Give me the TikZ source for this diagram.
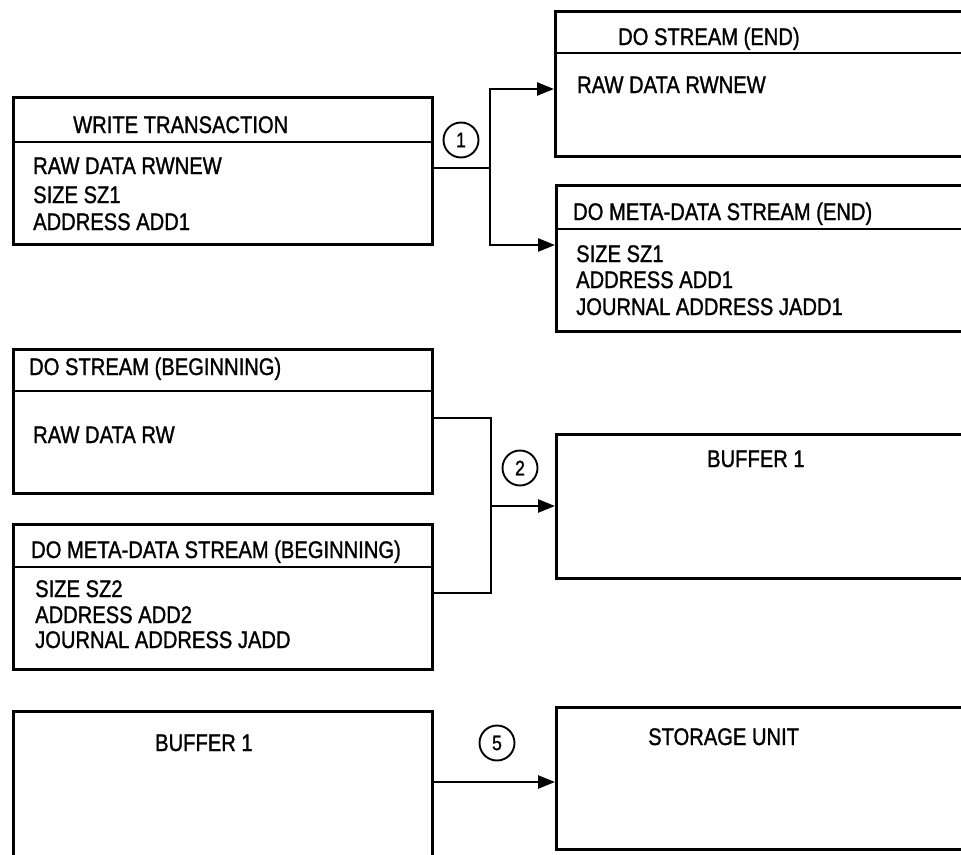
\documentclass[tikz,border=0pt]{standalone}
\usepackage{fontspec}
\setmainfont{Liberation Sans}[FakeStretch=0.84,FakeBold=1.2]
\usetikzlibrary{arrows.meta}
\tikzset{
  box/.style={draw, line width=2.5pt, rectangle, inner sep=0pt, anchor=north west},
  txt/.style={anchor=base west, inner sep=0pt, font=\fontsize{24}{24}\selectfont},
  num/.style={draw, circle, line width=1.9pt, minimum size=35pt, inner sep=0pt, font=\fontsize{21}{21}\selectfont},
  conn/.style={line width=2.5pt},
  arr/.style={line width=2.5pt, -{Triangle[length=17pt,width=13pt]}},
}
\begin{document}
\begin{tikzpicture}[x=1pt,y=-1pt]
\useasboundingbox (0,0) rectangle (961,854);
\fill[white] (0,0) rectangle (961,854);
\begin{scope}
\clip (0,0) rectangle (961,854);
% boxes
\node[box, minimum width=419pt, minimum height=147pt] (wt) at (12,96) {};
\node[box, minimum width=446pt, minimum height=145pt] (dse) at (554,10) {};
\node[box, minimum width=446pt, minimum height=146pt] (dmdse) at (555,184) {};
\node[box, minimum width=419pt, minimum height=144pt] (dsb) at (12,348) {};
\node[box, minimum width=419pt, minimum height=145pt] (dmdsb) at (12,523) {};
\node[box, minimum width=446pt, minimum height=144pt] (bufr) at (555,433) {};
\node[box, minimum width=419pt, minimum height=160pt] (bufl) at (12,710) {};
\node[box, minimum width=446pt, minimum height=142pt] (stor) at (555,706) {};
% dividers
\draw[conn] ([yshift=-46pt]wt.north west) -- ([yshift=-46pt]wt.north east);
\draw[conn] ([yshift=-43pt]dse.north west) -- ([yshift=-43pt]dse.north east);
\draw[conn] ([yshift=-45pt]dmdse.north west) -- ([yshift=-45pt]dmdse.north east);
\draw[conn] ([yshift=-43pt]dsb.north west) -- ([yshift=-43pt]dsb.north east);
\draw[conn] ([yshift=-44pt]dmdsb.north west) -- ([yshift=-44pt]dmdsb.north east);
% texts
\node[txt] (t1) at (73,133) {WRITE TRANSACTION};
\node[txt] (t2) at (33,174) {RAW DATA RWNEW};
\node[txt] (t3) at (33,203) {SIZE SZ1};
\node[txt] (t4) at (33,230) {ADDRESS ADD1};
\node[txt] (t5) at (618,45) {DO STREAM (END)};
\node[txt] (t6) at (577,93) {RAW DATA RWNEW};
\node[txt] (t7) at (573,220) {DO META-DATA STREAM (END)};
\node[txt] (t8) at (576,262) {SIZE SZ1};
\node[txt] (t9) at (576,288) {ADDRESS ADD1};
\node[txt] (t10) at (576,315) {JOURNAL ADDRESS JADD1};
\node[txt] (t11) at (29,375) {DO STREAM (BEGINNING)};
\node[txt] (t12) at (33,443) {RAW DATA RW};
\node[txt] (t13) at (31,558) {DO META-DATA STREAM (BEGINNING)};
\node[txt] (t14) at (35,597) {SIZE SZ2};
\node[txt] (t15) at (35,623) {ADDRESS ADD2};
\node[txt] (t16) at (35,648) {JOURNAL ADDRESS JADD};
\node[txt] (t17) at (707,467) {BUFFER 1};
\node[txt] (t18) at (155,751) {BUFFER 1};
\node[txt] (t19) at (648,745) {STORAGE UNIT};
% connector 1
\coordinate (j1) at (490,168);
\coordinate (j1t) at (490,89);
\coordinate (j1b) at (490,245);
\draw[conn] (j1 -| wt.east) -- (j1);
\draw[arr] (j1) |- (j1t -| dse.west);
\draw[arr] (j1) |- (j1b -| dmdse.west);
\node[num] (c1) at (461,140) {1};
% connector 2
\coordinate (j2a) at (491,418);
\coordinate (j2b) at (491,593);
\coordinate (j2) at (491,506);
\draw[conn] (j2a -| dsb.east) -- (j2a) -- (j2b) -- (j2b -| dmdsb.east);
\draw[arr] (j2) -- (j2 -| bufr.west);
\node[num] (c2) at (520,468) {2};
% connector 5
\coordinate (j5) at (493,782);
\draw[arr] (j5 -| bufl.east) -- (j5 -| stor.west);
\node[num] (c5) at (497,743) {5};
\end{scope}
\end{tikzpicture}
\end{document}
